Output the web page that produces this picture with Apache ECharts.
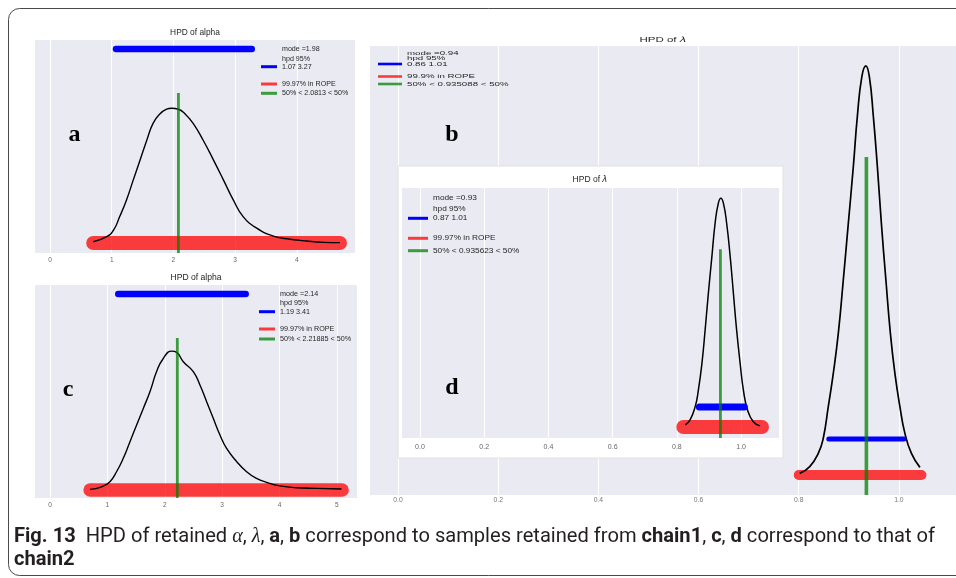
<!DOCTYPE html>
<html>
<head>
<meta charset="utf-8">
<script src="https://cdn.jsdelivr.net/npm/echarts@6/dist/echarts.min.js"></script>
<style>
  html, body { margin: 0; padding: 0; background: #fff; }
  #chart { width: 956px; height: 578px; }
</style>
</head>
<body>
<div id="chart"></div>
<script>
// ---- chain 1, alpha (panel a) ----
const alphaChain1X = [0.70, 0.92, 1.03, 1.13, 1.24, 1.35, 1.46, 1.57, 1.67, 1.78, 1.89, 1.97, 2.08, 2.19, 2.32, 2.48, 2.65, 2.81, 2.97, 3.13, 3.35, 3.62, 3.89, 4.16, 4.43, 4.70];
const alphaChain1Density = [0.004, 0.020, 0.041, 0.084, 0.137, 0.201, 0.264, 0.328, 0.381, 0.411, 0.426, 0.429, 0.426, 0.411, 0.381, 0.328, 0.264, 0.201, 0.137, 0.084, 0.047, 0.022, 0.012, 0.006, 0.002, 0.001];
const alphaChain1Hpd = [1.07, 3.27];
const alphaChain1Rope = [0.70, 4.70];
const alphaChain1Median = 2.0813;
const alphaChain1Mode = 1.98;
const alphaChain1InRope = '99.97%';
const alphaChain1Levels = [0.618, 0.478];   // hpd bar height, median line top

// ---- chain 2, alpha (panel c) ----
const alphaChain2X = [0.697, 0.90, 1.045, 1.16, 1.277, 1.394, 1.51, 1.626, 1.742, 1.858, 1.974, 2.12, 2.207, 2.323, 2.497, 2.613, 2.73, 2.845, 2.962, 3.078, 3.252, 3.426, 3.60, 3.775, 4.007, 4.298, 4.646, 5.08];
const alphaChain2Density = [0.002, 0.010, 0.026, 0.057, 0.099, 0.151, 0.203, 0.255, 0.307, 0.370, 0.411, 0.434, 0.430, 0.401, 0.370, 0.328, 0.276, 0.224, 0.172, 0.130, 0.089, 0.057, 0.036, 0.024, 0.013, 0.007, 0.005, 0.003];
const alphaChain2Hpd = [1.19, 3.41];
const alphaChain2Rope = [0.70, 5.09];
const alphaChain2Median = 2.21885;
const alphaChain2Mode = 2.14;
const alphaChain2InRope = '99.97%';
const alphaChain2Levels = [0.6125, 0.475];

// ---- chain 1, lambda (panel b) ----
const lambdaChain1X = [0.802, 0.822, 0.839, 0.849, 0.859, 0.869, 0.879, 0.889, 0.899, 0.909, 0.917, 0.926, 0.934, 0.941, 0.949, 0.957, 0.965, 0.974, 0.983, 0.992, 1.002, 1.012, 1.025, 1.042];
const lambdaChain1Density = [0.04, 0.21, 0.54, 0.92, 1.71, 2.54, 3.54, 4.88, 6.29, 7.71, 8.96, 9.96, 10.23, 9.96, 8.96, 7.71, 6.29, 4.88, 3.54, 2.54, 1.71, 1.04, 0.54, 0.19];
const lambdaChain1Hpd = [0.86, 1.01];
const lambdaChain1Rope = [0.80, 1.045];
const lambdaChain1Median = 0.935088;
const lambdaChain1Mode = 0.94;
const lambdaChain1InRope = '99.9%';
const lambdaChain1Levels = [0.9, 7.95];

// ---- chain 2, lambda (panel d) ----
const lambdaChain2X = [0.826, 0.841, 0.857, 0.867, 0.878, 0.888, 0.898, 0.909, 0.919, 0.929, 0.937, 0.945, 0.955, 0.966, 0.976, 0.986, 0.997, 1.007, 1.020, 1.038, 1.059];
const lambdaChain2Density = [0.09, 0.31, 0.89, 1.62, 2.78, 4.24, 5.84, 7.44, 8.90, 9.77, 9.99, 9.77, 8.90, 7.44, 5.84, 4.24, 2.78, 1.62, 0.74, 0.23, 0.05];
const lambdaChain2Hpd = [0.87, 1.01];
const lambdaChain2Rope = [0.82, 1.065];
const lambdaChain2Median = 0.935623;
const lambdaChain2Mode = 0.93;
const lambdaChain2InRope = '99.97%';
const lambdaChain2Levels = [0.87, 7.77];

// ---- tick labels ----
const alphaTicksChain1 = [0, 1, 2, 3, 4];
const alphaTicksChain2 = [0, 1, 2, 3, 4, 5];
const lambdaTicks = [0.0, 0.2, 0.4, 0.6, 0.8, 1.0];

const SANS = '"Liberation Sans", Arial, sans-serif';
const RED = 'rgba(255,0,0,0.75)';
const GREEN = 'rgba(0,128,0,0.75)';
const BLUE = '#0000ff';

// Panel layout: plot rectangles, axis ranges, stroke widths, text placement
const panels = [
  { // a
    x: alphaChain1X, y: alphaChain1Density, hpd: alphaChain1Hpd, rope: alphaChain1Rope,
    median: alphaChain1Median, mode: alphaChain1Mode, inRope: alphaChain1InRope, levels: alphaChain1Levels,
    ticks: alphaTicksChain1, fmt: v => String(v),
    grid: { left: 35, top: 40, width: 320, height: 213 },
    xr: [-0.243, 4.943], yr: [-0.032, 0.6465],
    w: { rope: 14, hpd: 6.5, med: 2.8, curve: 1.4 },
    z: 0, labelSize: 6.5, labelMargin: 4, labelColor: '#666',
    title: { x: 195, y: 33, size: 8.4, sx: 1, text: '{t|HPD of alpha}' },
    letter: { text: 'a', x: 74.5, y: 135 },
    legend: { textX: 282, handle: [261, 277], rows: [49.3, 59.3, 66.7, 84, 93.3], size: 7.1, sx: 1, handleW: 3 }
  },
  { // b
    x: lambdaChain1X, y: lambdaChain1Density, hpd: lambdaChain1Hpd, rope: lambdaChain1Rope,
    median: lambdaChain1Median, mode: lambdaChain1Mode, inRope: lambdaChain1InRope, levels: lambdaChain1Levels,
    ticks: lambdaTicks, fmt: v => v.toFixed(1),
    grid: { left: 370, top: 46, width: 586, height: 449 },
    xr: [-0.056, 1.114], yr: [-0.5, 10.725],
    w: { rope: 10, hpd: 5, med: 3.6, curve: 1.7 },
    z: 0, labelSize: 6.8, labelMargin: 2, labelColor: '#777',
    title: { x: 663, y: 40, size: 7.2, sx: 1.6, text: '{t|HPD of }{g|λ}' },
    letter: { text: 'b', x: 452, y: 135 },
    legend: { textX: 407, handle: [378, 402], rows: [53, 58.7, 64, 76.5, 84], size: 6, sx: 1.62, handleW: 2.6 }
  },
  { // c
    x: alphaChain2X, y: alphaChain2Density, hpd: alphaChain2Hpd, rope: alphaChain2Rope,
    median: alphaChain2Median, mode: alphaChain2Mode, inRope: alphaChain2InRope, levels: alphaChain2Levels,
    ticks: alphaTicksChain2, fmt: v => String(v),
    grid: { left: 35, top: 285, width: 322, height: 213 },
    xr: [-0.261, 5.35], yr: [-0.025, 0.6406],
    w: { rope: 13.5, hpd: 6.5, med: 2.8, curve: 1.4 },
    z: 0, labelSize: 6.5, labelMargin: 4, labelColor: '#666',
    title: { x: 196, y: 278, size: 8.6, sx: 1, text: '{t|HPD of alpha}' },
    letter: { text: 'c', x: 68, y: 390 },
    legend: { textX: 280, handle: [259, 275], rows: [294, 303.3, 311.7, 329, 339], size: 7.2, sx: 1, handleW: 3 }
  },
  { // d
    x: lambdaChain2X, y: lambdaChain2Density, hpd: lambdaChain2Hpd, rope: lambdaChain2Rope,
    median: lambdaChain2Median, mode: lambdaChain2Mode, inRope: lambdaChain2InRope, levels: lambdaChain2Levels,
    ticks: lambdaTicks, fmt: v => v.toFixed(1),
    grid: { left: 402, top: 188, width: 377, height: 250 },
    xr: [-0.056, 1.118], yr: [-0.48, 10.44],
    w: { rope: 14, hpd: 7, med: 2.8, curve: 1.5 },
    z: 7, labelSize: 7, labelMargin: 6, labelColor: '#666',
    title: { x: 590, y: 180, size: 8.5, sx: 1, text: '{t|HPD of }{g|λ}' },
    letter: { text: 'd', x: 452, y: 388 },
    legend: { textX: 433, handle: [408, 428], rows: [197.7, 209, 218.3, 238.3, 250.7], size: 7.8, sx: 1.06, handleW: 3 }
  }
];

const grids = [], xAxes = [], yAxes = [], series = [], graphics = [];

panels.forEach((p, i) => {
  grids.push(Object.assign({ show: true, backgroundColor: '#eaeaf2', borderWidth: 0, z: p.z }, p.grid));
  xAxes.push({
    type: 'value', gridIndex: i, min: p.xr[0], max: p.xr[1], z: p.z,
    axisLine: { show: false },
    axisTick: { show: false, customValues: p.ticks },
    axisLabel: { customValues: p.ticks, formatter: p.fmt, fontSize: p.labelSize, color: p.labelColor, margin: p.labelMargin, fontFamily: SANS },
    splitLine: { show: true, lineStyle: { color: '#ffffff', width: 1 } }
  });
  yAxes.push({ type: 'value', gridIndex: i, min: p.yr[0], max: p.yr[1], show: false, splitLine: { show: false } });

  const base = { type: 'line', xAxisIndex: i, yAxisIndex: i, symbol: 'none', silent: true, animation: false };
  // region of practical equivalence
  series.push(Object.assign({}, base, {
    data: [[p.rope[0], 0], [p.rope[1], 0]],
    lineStyle: { color: RED, width: p.w.rope, cap: 'round' }, z: p.z + 2
  }));
  // posterior density
  series.push(Object.assign({}, base, {
    data: p.x.map((v, k) => [v, p.y[k]]),
    smooth: 0.5,
    lineStyle: { color: '#000', width: p.w.curve, join: 'round' }, z: p.z + 3
  }));
  // 95% highest posterior density interval
  series.push(Object.assign({}, base, {
    data: [[p.hpd[0], p.levels[0]], [p.hpd[1], p.levels[0]]],
    lineStyle: { color: BLUE, width: p.w.hpd, cap: 'round' }, z: p.z + 4
  }));
  // posterior median
  series.push(Object.assign({}, base, {
    data: [[p.median, p.yr[0]], [p.median, p.levels[1]]],
    lineStyle: { color: GREEN, width: p.w.med }, z: p.z + 5
  }));

  // title
  graphics.push({
    type: 'text', x: p.title.x, y: p.title.y, scaleX: p.title.sx, z: 30, silent: true,
    style: {
      text: p.title.text, align: 'center', verticalAlign: 'middle',
      rich: {
        t: { fontFamily: SANS, fontSize: p.title.size, fill: '#262626' },
        g: { fontFamily: '"DejaVu Sans", sans-serif', fontStyle: 'italic', fontSize: p.title.size, fill: '#262626' }
      }
    }
  });
  // panel letter
  graphics.push({
    type: 'text', x: p.letter.x, y: p.letter.y, z: 30, silent: true,
    style: { text: p.letter.text, align: 'center', verticalAlign: 'middle',
      font: 'bold 24px "Liberation Serif", "Times New Roman", serif', fill: '#000' }
  });
  // legend
  const L = p.legend;
  const lines = ['mode =' + p.mode.toFixed(2), 'hpd 95%', p.hpd[0].toFixed(2) + ' ' + p.hpd[1].toFixed(2),
                 p.inRope + ' in ROPE', '50% < ' + p.median + ' < 50%'];
  lines.forEach((t, k) => graphics.push({
    type: 'text', x: L.textX, y: L.rows[k], scaleX: L.sx, z: 30, silent: true,
    style: { text: t, fontFamily: SANS, fontSize: L.size, fill: '#262626', align: 'left', verticalAlign: 'middle' }
  }));
  [[2, BLUE], [3, RED], [4, GREEN]].forEach(([k, c]) => graphics.push({
    type: 'line', z: 30, silent: true,
    shape: { x1: L.handle[0], y1: L.rows[k], x2: L.handle[1], y2: L.rows[k] },
    style: { stroke: c, lineWidth: L.handleW }
  }));
});

// outer frame
graphics.push({ type: 'rect', z: 1, silent: true,
  shape: { x: 8.5, y: 8.5, width: 1000, height: 567, r: 11 },
  style: { fill: 'none', stroke: '#4a4a4a', lineWidth: 1 } });
// white inset holding panel d
graphics.push({ type: 'rect', z: 6, silent: true,
  shape: { x: 398, y: 166, width: 385, height: 292 },
  style: { fill: '#ffffff', stroke: '#e2e2e2', lineWidth: 1 } });

// caption
const CAP_SIZE = 20;
const capFonts = {
  n: { fontFamily: 'Roboto', fontWeight: 'normal', fontStyle: 'normal' },
  b: { fontFamily: 'Roboto', fontWeight: 'bold', fontStyle: 'normal' },
  i: { fontFamily: '"Liberation Serif"', fontWeight: 'normal', fontStyle: 'italic' }
};
const captionLine1 = [
  ['b', 'Fig. 13'], ['n', '  HPD of retained '], ['i', 'α'], ['n', ', '], ['i', 'λ'], ['n', ', '],
  ['b', 'a'], ['n', ', '], ['b', 'b'], ['n', ' correspond to samples retained from '], ['b', 'chain1'],
  ['n', ', '], ['b', 'c'], ['n', ', '], ['b', 'd'], ['n', ' correspond to that of']
];
const captionLine2 = [['b', 'chain2']];
const ctx = document.createElement('canvas').getContext('2d');
function segWidth(seg) {
  const f = capFonts[seg[0]];
  ctx.font = `${f.fontStyle} ${f.fontWeight} ${CAP_SIZE}px ${f.fontFamily}`;
  return ctx.measureText(seg[1]).width;
}
const line1Width = captionLine1.reduce((s, seg) => s + segWidth(seg), 0);
const capScale = (935 - 14) / line1Width;
const capRich = {};
Object.keys(capFonts).forEach(k => { capRich[k] = Object.assign({ fontSize: CAP_SIZE, fill: '#231f20' }, capFonts[k]); });
const richText = segs => segs.map(s => `{${s[0]}|${s[1]}}`).join('');
graphics.push({ type: 'text', x: 14, y: 537, scaleX: capScale, z: 30, silent: true,
  style: { text: richText(captionLine1), rich: capRich, verticalAlign: 'middle', align: 'left' } });
graphics.push({ type: 'text', x: 14, y: 560, scaleX: capScale, z: 30, silent: true,
  style: { text: richText(captionLine2), rich: capRich, verticalAlign: 'middle', align: 'left' } });

const chart = echarts.init(document.getElementById('chart'), null, { renderer: 'canvas' });
chart.setOption({
  animation: false,
  backgroundColor: '#ffffff',
  grid: grids,
  xAxis: xAxes,
  yAxis: yAxes,
  series: series,
  graphic: { elements: graphics }
});
</script>
</body>
</html>
